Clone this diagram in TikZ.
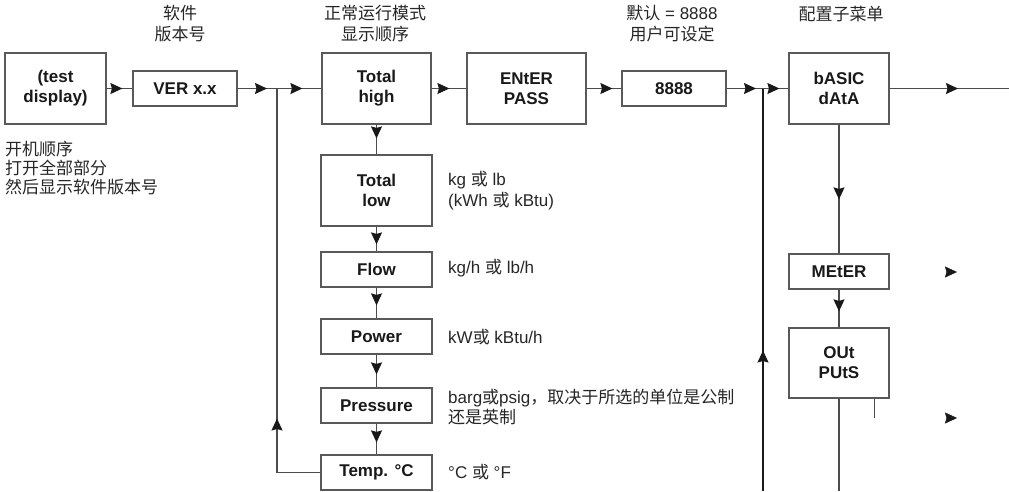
\documentclass[tikz,border=0pt]{standalone}
\usepackage{fontspec}
\setmainfont{Liberation Sans}
\newfontfamily\cjk{Noto Sans CJK SC}
\usepackage{tikz}
\usetikzlibrary{arrows.meta, positioning, decorations.markings}

\newcommand\boxfont{\bfseries\fontsize{17}{20}\selectfont}
\newcommand\notefont{\fontsize{17}{21}\selectfont}

\tikzset{
  box/.style={draw=black!65, line width=1.2pt, fill=white, align=center,
              font=\boxfont, text=black!90, inner sep=2pt},
  tall/.style={minimum height=71pt},
  flat/.style={minimum height=35pt},
  link/.style={draw=black!70, line width=1.2pt},
  tipat/.style={postaction={decorate},
                decoration={markings, mark=at position #1 with
                  {\arrow[black!90]{Stealth[length=12pt,width=11pt,inset=1.5pt]}}}},
  note/.style={font=\notefont, align=left, inner sep=0pt, text=black!85},
  head/.style={font=\notefont, align=center, inner sep=0pt, text=black!85},
}

\begin{document}
\begin{tikzpicture}[x=1pt, y=-1pt]
  \useasboundingbox (0,0) rectangle (1009,491);

  % top row
  \node[box, tall, minimum width=101pt] (test) at (55.5,88.5) {(test\\display)};
  \node[box, flat, minimum width=104pt] (ver) at (185,88.5) {VER x.x};
  \node[box, tall, minimum width=109pt] (th) at (376.5,88.5) {Total\\high};
  \node[box, tall, minimum width=119pt] (pass) at (526.5,88.5) {ENtER\\PASS};
  \node[box, flat, minimum width=104pt] (code) at (674,88.5) {8888};
  \node[box, tall, minimum width=100pt] (basic) at (839,88.5) {bASIC\\dAtA};

  % display sequence
  \node[box, tall, minimum width=111pt] (tl) at (376.5,190.5) {Total\\low};
  \node[box, flat, minimum width=111pt] (flow) at (376.5,269.5) {Flow};
  \node[box, flat, minimum width=111pt] (power) at (376.5,336.5) {Power};
  \node[box, flat, minimum width=111pt] (press) at (376.5,405.5) {Pressure};
  \node[box, flat, minimum width=111pt] (temp) at (376.5,472.5) {Temp. °C};

  % configuration submenu
  \node[box, flat, minimum width=100pt] (meter) at (839,271.5) {MEtER};
  \node[box, minimum height=70pt, minimum width=100pt] (outs) at (839,363) {OUt\\PUtS};

  % labels
  \node[head] (lver) at (180,24) {\cjk 软件\\\cjk 版本号};
  \node[head] (lth) at (375,24) {\cjk 正常运行模式\\\cjk 显示顺序};
  \node[head] (lcode) at (672,24) {{\cjk 默认} = 8888\\\cjk 用户可设定};
  \node[head] (lbasic) at (841,14) {\cjk 配置子菜单};
  \node[note, anchor=west, font=\fontsize{17}{19}\selectfont] (lstart) at (5,168)
    {\cjk 开机顺序\\\cjk 打开全部部分\\\cjk 然后显示软件版本号};
  \node[note, anchor=west] (ltl) at (448,191) {kg {\cjk 或} lb\\(kWh {\cjk 或} kBtu)};
  \node[note, anchor=west] (lflow) at (448,268) {kg/h {\cjk 或} lb/h};
  \node[note, anchor=west] (lpower) at (448,337) {kW{\cjk 或} kBtu/h};
  \node[note, anchor=west, font=\fontsize{17}{20}\selectfont] (lpress) at (448,407)
    {barg{\cjk 或}psig{\cjk ，取决于所选的单位是公制}\\\cjk 还是英制};
  \node[note, anchor=west] (ltemp) at (448,472) {°C {\cjk 或} °F};

  \coordinate (j1) at (277,88.5);
  \coordinate (j2) at (763,88.5);
  \coordinate (rend) at (1009,88.5);
  \coordinate (jbot) at (763,491);
  \coordinate (obot) at (839,491);
  \coordinate (tick) at (874,418);
  \coordinate (t1) at (957,272);
  \coordinate (t2) at (957,418);

  % connectors
  \draw[link, tipat=-10pt] (test) -- (ver);
  \draw[link, tipat=-10pt] (ver) -- (j1);
  \draw[link, tipat=-19pt] (j1) -- (th);
  \draw[link, tipat=-17pt] (th) -- (pass);
  \draw[link, tipat=-9pt] (pass) -- (code);
  \draw[link, tipat=-7pt] (code) -- (j2);
  \draw[link, tipat=-9pt] (j2) -- (basic);
  \draw[link, tipat=-51pt] (basic) -- (rend);
  \draw[link, tipat=-16pt] (th) -- (tl);
  \draw[link, tipat=-7pt] (tl) -- (flow);
  \draw[link, tipat=-13pt] (flow) -- (power);
  \draw[link, tipat=-13pt] (power) -- (press);
  \draw[link, tipat=-12pt] (press) -- (temp);
  \draw[link, tipat=-330pt] (temp.west) -| (j1);
  \draw[link, draw=black!90, tipat=-262pt] (jbot) -- (j2);
  \draw[link, tipat=-54pt] (basic) -- (meter);
  \draw[link, tipat=-16pt] (meter) -- (outs);
  \draw[link] (outs) -- (obot);
  \draw[link, line width=0.8pt] (outs.south -| tick) -- (tick);
  \path[tipat=1] ([xshift=-10pt]t1) -- (t1);
  \path[tipat=1] ([xshift=-10pt]t2) -- (t2);
\end{tikzpicture}
\end{document}
